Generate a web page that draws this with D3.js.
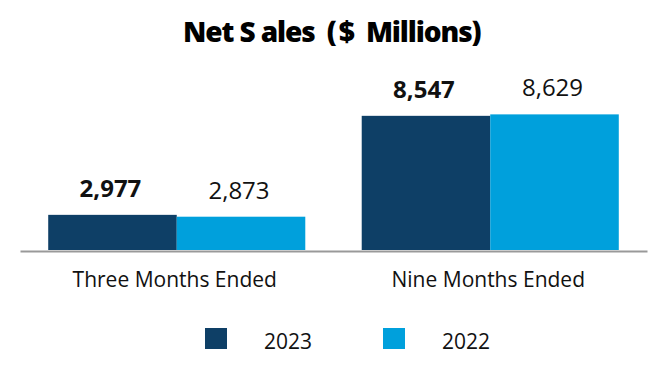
<!DOCTYPE html>
<html>
<head>
<meta charset="utf-8">
<script src="https://cdn.jsdelivr.net/npm/d3@7/dist/d3.min.js"></script>
<style>
  html, body { margin: 0; padding: 0; background: #fff; }
  svg { display: block; font-family: "Open Sans", sans-serif; }
</style>
</head>
<body>
<svg id="chart" width="666" height="380"></svg>
<script>
const titleParts = ["Net S ales", " (", "$", " Millions)"];
const categories = ["Three Months Ended", "Nine Months Ended"];
const seriesNames = ["2023", "2022"];
const values2023 = [2977, 8547];
const values2022 = [2873, 8629];
const valueLabels2023 = ["2,977", "8,547"];
const valueLabels2022 = ["2,873", "8,629"];
const colors = ["#0E3F66", "#00A0DC"];

const svg = d3.select("#chart");
const W = 666, H = 380;

const series = [
  { name: seriesNames[0], values: values2023, labels: valueLabels2023, color: colors[0], bold: true },
  { name: seriesNames[1], values: values2022, labels: valueLabels2022, color: colors[1], bold: false }
];

const x0 = d3.scaleBand().domain(categories).range([20, 647]).paddingInner(0.18).paddingOuter(0.09);
const x1 = d3.scaleBand().domain(seriesNames).range([0, x0.bandwidth()]).padding(0);
const y = d3.scaleLinear().domain([1000, 10000]).range([250, 90]);

// title
const t = svg.append("text")
  .attr("x", 183).attr("y", 42)
  .attr("font-size", 28).attr("font-weight", 800)
  .attr("letter-spacing", -1.1)
  .attr("fill", "#000");
t.selectAll("tspan").data(titleParts).join("tspan")
  .attr("dx", (d, i) => [0, 6, 3, 6][i])
  .text(d => d);

// bars
const groups = svg.selectAll("g.grp").data(categories).join("g")
  .attr("class", "grp")
  .attr("transform", d => `translate(${x0(d)},0)`);

series.forEach(s => {
  groups.append("rect")
    .attr("x", x1(s.name))
    .attr("width", x1.bandwidth())
    .attr("y", (d, i) => y(s.values[i]))
    .attr("height", (d, i) => y.range()[0] - y(s.values[i]))
    .attr("fill", s.color);
  groups.append("text")
    .attr("x", x1(s.name) + x1.bandwidth() / 2 - 2)
    .attr("y", (d, i) => y(s.values[i]) - 18)
    .attr("text-anchor", "middle")
    .attr("font-size", 24)
    .attr("font-weight", s.bold ? 700 : 400)
    .attr("fill", "#111")
    .text((d, i) => s.labels[i]);
});

// axis
const xAxis = d3.axisBottom(x0).tickSize(0).tickPadding(21);
const ax = svg.append("g").attr("transform", `translate(0,${y.range()[0] + 1})`).call(xAxis);
ax.select(".domain").attr("stroke", "#999").attr("stroke-width", 2);
ax.selectAll(".tick text")
  .attr("font-family", "Open Sans, sans-serif")
  .attr("font-size", 21)
  .attr("fill", "#111")
  .attr("dx", -2);

// legend
const legend = svg.append("g");
const legendX = [205, 383];
series.forEach((s, i) => {
  legend.append("rect")
    .attr("x", legendX[i]).attr("y", 328)
    .attr("width", 22).attr("height", 21)
    .attr("fill", s.color);
  legend.append("text")
    .attr("x", legendX[i] + 59).attr("y", 349)
    .attr("font-size", 21)
    .attr("fill", "#111")
    .text(s.name);
});
</script>
</body>
</html>
